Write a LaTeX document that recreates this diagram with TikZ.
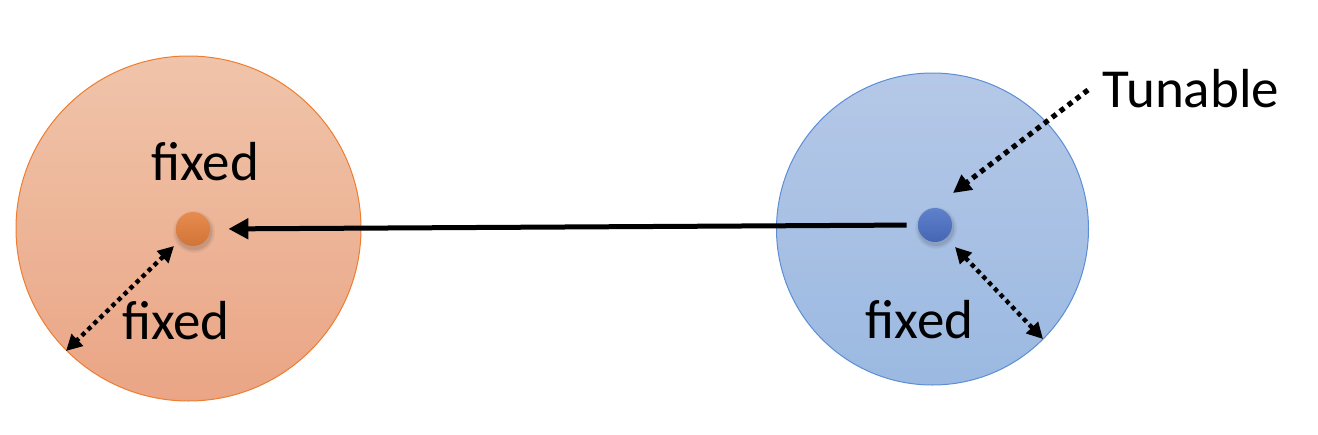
\documentclass[tikz,border=0pt]{standalone}
\usepackage{fontspec}
\setmainfont{Carlito}
\usetikzlibrary{arrows.meta}
\definecolor{orTop}{HTML}{F0C4AA}
\definecolor{orBot}{HTML}{EAA585}
\definecolor{orLine}{HTML}{ED7D31}
\definecolor{blTop}{HTML}{B5C8E7}
\definecolor{blBot}{HTML}{9BB9E1}
\definecolor{blLine}{HTML}{5B8ED6}
\definecolor{orDot}{HTML}{E47E3C}
\definecolor{blDot}{HTML}{4A6FC4}
\tikzset{
  bigcircle/.style={circle, inner sep=0pt, line width=0.5pt},
  smalldot/.style={circle, inner sep=0pt, minimum size=17pt},
  lbl/.style={font=\fontsize{27.5}{32}\selectfont, inner sep=0pt, anchor=base},
  mainarrow/.style={line width=2.5pt, -{Triangle[length=10pt,width=10pt]}},
  dotarrow/.style={line width=2.6pt, dash pattern=on 2.6pt off 2.4pt, -{Triangle[length=9pt,width=9pt]}},
  dotdouble/.style={line width=2.2pt, dash pattern=on 2.2pt off 2pt, {Triangle[length=8pt,width=8pt]}-{Triangle[length=8pt,width=8pt]}}
}
\begin{document}
\begin{tikzpicture}[x=0.5pt,y=-0.5pt]
\useasboundingbox (0,0) rectangle (1318,434);
% big circles
\node[bigcircle, minimum size=172.5pt, draw=orLine, top color=orTop, bottom color=orBot] (cL) at (188.5,228.5) {};
\node[bigcircle, minimum size=156pt, draw=blLine, top color=blTop, bottom color=blBot] (cR) at (932.5,229) {};
% soft shadows of dots
\foreach \r/\o in {21/0.04,19.5/0.05,18/0.07} {
  \fill[black, opacity=\o] (194,232) circle (\r);
  \fill[black, opacity=\o] (936,228) circle (\r);
}
% dots
\node[smalldot, top color=orDot!90!white, bottom color=orDot!92!black] (dotL) at (193,229) {};
\node[smalldot, top color=blDot!88!white, bottom color=blDot!92!black] (dotR) at (935,225) {};
% labels
\node[lbl] (fixTL) at (205,180) {fixed};
\node[lbl] (fixBL) at (176,339) {fixed};
\node[lbl] (fixR) at (919.5,338) {fixed};
\node[lbl] (tun) at (1191,107) {Tunable};
% main arrow
\draw[mainarrow, shorten <=5.5pt, shorten >=9pt] (dotR.west) -- (dotL.east);
% tunable arrow
\coordinate (tS) at (1088,90);
\coordinate (tE) at (953,193);
\draw[dotarrow] (tS) -- (tE);
% radius arrows
\coordinate (lA) at (174,246);
\coordinate (lB) at (66,351);
\draw[dotdouble] (lA) -- (lB);
\coordinate (rA) at (955,247);
\coordinate (rB) at (1043,339);
\draw[dotdouble] (rA) -- (rB);
\end{tikzpicture}
\end{document}
